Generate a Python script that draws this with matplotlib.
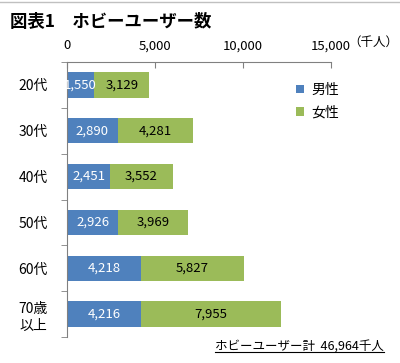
import matplotlib.pyplot as plt
from matplotlib.lines import Line2D

plt.rcParams['font.family'] = ['Noto Sans CJK JP', 'DejaVu Sans']

categories = ['20代', '30代', '40代', '50代', '60代', '70歳\n以上']
male = [1550, 2890, 2451, 2926, 4218, 4216]
female = [3129, 4281, 3552, 3969, 5827, 7955]
xticks = [0, 5000, 10000, 15000]
title = '図表1　ホビーユーザー数'
footer = 'ホビーユーザー計  46,964千人'

blue = '#4f81bd'
green = '#9bbb59'

fig = plt.figure(figsize=(4.0, 3.63), dpi=100)
ax = fig.add_axes([0.1675, 0.0716, 0.66, 0.7574])

y = list(range(len(categories)))
b1 = ax.barh(y, male, height=0.55, color=blue, label='男性')
b2 = ax.barh(y, female, left=male, height=0.55, color=green, label='女性')

for i in y:
    ax.text(male[i] / 2, i, f'{male[i]:,}', ha='center', va='center',
            color='white', fontsize=9.5)
    ax.text(male[i] + female[i] / 2, i, f'{female[i]:,}', ha='center',
            va='center', color='black', fontsize=9.5)

ax.set_xlim(0, 15000)
ax.set_ylim(len(categories) - 0.5, -0.5)
ax.xaxis.tick_top()
ax.set_xticks(xticks)
ax.set_xticklabels([f'{v:,}' for v in xticks], fontsize=9.5)
ax.tick_params(axis='x', direction='in', length=4, color='#808080', pad=7)
ax.set_yticks(y)
ax.set_yticklabels(categories, fontsize=10, linespacing=1.3)
ax.set_yticks([i + 0.5 for i in range(-1, len(categories))], minor=True)
ax.tick_params(axis='y', which='major', length=0, pad=14)
ax.tick_params(axis='y', which='minor', length=4, color='#808080')
for s in ['right', 'bottom']:
    ax.spines[s].set_visible(False)
for s in ['top', 'left']:
    ax.spines[s].set_color('#808080')

ax.text(1.065, 1.05, '（千人）', transform=ax.transAxes, fontsize=9,
        ha='left', va='bottom')

ax.legend(loc='upper left', bbox_to_anchor=(0.82, 0.97), frameon=False,
          fontsize=10, handlelength=0.6, handleheight=0.6, handletextpad=0.5,
          labelspacing=0.6)

fig.text(0.025, 0.94, title, fontsize=12.5, fontweight='bold', va='center')
fig.add_artist(Line2D([0, 1], [0.995, 0.995], color='#c0c0c0', lw=1))

ft = fig.text(0.96, 0.045, footer, fontsize=9, ha='right', va='center')
fig.canvas.draw()
bb = ft.get_window_extent().transformed(fig.transFigure.inverted())
fig.add_artist(Line2D([bb.x0, bb.x1], [bb.y0 + 0.004, bb.y0 + 0.004],
                      color='black', lw=0.8))

fig.savefig('out.png', dpi=100)
